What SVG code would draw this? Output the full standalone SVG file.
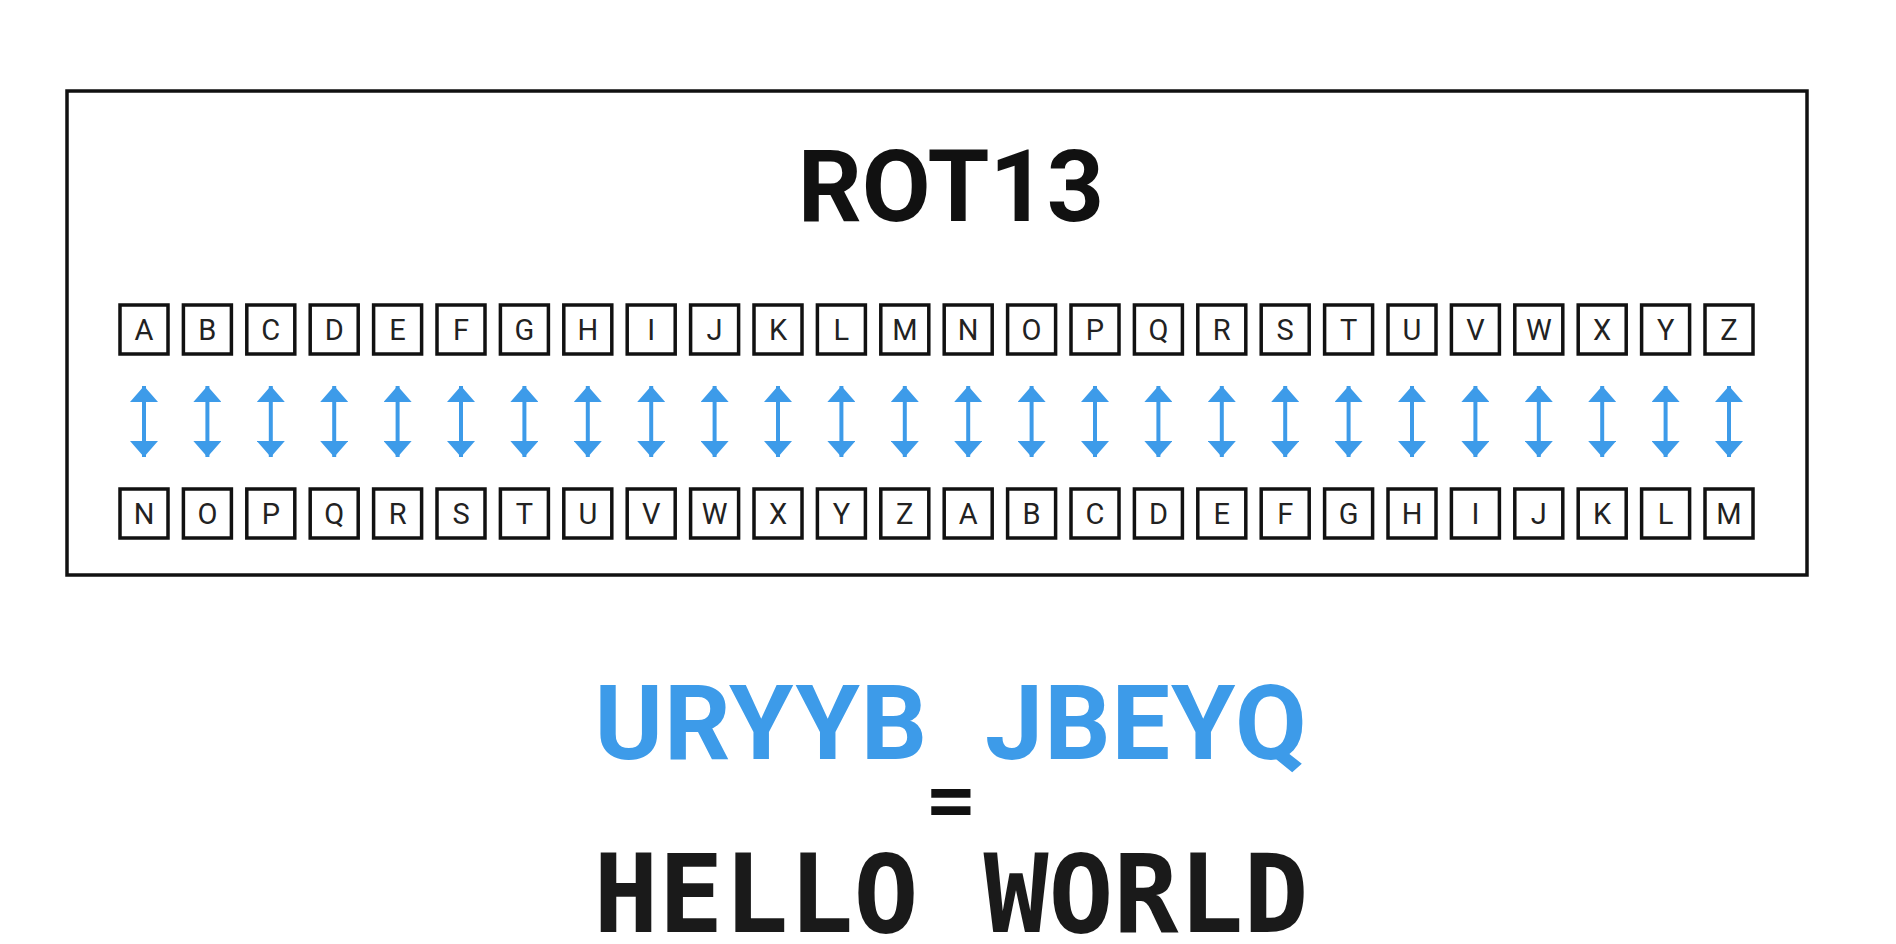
<svg xmlns="http://www.w3.org/2000/svg" width="1896" height="944" viewBox="0 0 1896 944">
<style>
.b{fill:#fff;stroke:#111;stroke-width:3.5}
.l{font-family:Roboto,"Liberation Sans",sans-serif;font-size:29px;fill:#222;text-anchor:middle}
.a{stroke:#3d9be9;stroke-width:4;marker-start:url(#h);marker-end:url(#h)}
.m{font-family:"DejaVu Sans Mono","Liberation Mono",monospace;font-weight:bold;text-anchor:middle}
</style>
<defs><marker id="h" viewBox="0 0 10 10" refX="10" refY="5" markerWidth="4" markerHeight="7" preserveAspectRatio="none" markerUnits="strokeWidth" orient="auto-start-reverse"><path d="M0,0L10,5L0,10z" fill="#3d9be9"/></marker></defs>
<rect width="1896" height="944" fill="#fff"/>
<rect x="67" y="91" width="1740" height="484" fill="none" stroke="#111" stroke-width="3.5"/>
<text x="951" y="221" font-family="Roboto,'Liberation Sans',sans-serif" font-weight="bold" font-size="100" text-anchor="middle" fill="#111">ROT13</text>
<g id="top">
<g id="tA"><rect class="b" x="120" y="305" width="48" height="49"/><text class="l" x="144" y="340">A</text></g>
<g id="tB"><rect class="b" x="183.4" y="305" width="48" height="49"/><text class="l" x="207.4" y="340">B</text></g>
<g id="tC"><rect class="b" x="246.8" y="305" width="48" height="49"/><text class="l" x="270.8" y="340">C</text></g>
<g id="tD"><rect class="b" x="310.2" y="305" width="48" height="49"/><text class="l" x="334.2" y="340">D</text></g>
<g id="tE"><rect class="b" x="373.6" y="305" width="48" height="49"/><text class="l" x="397.6" y="340">E</text></g>
<g id="tF"><rect class="b" x="437" y="305" width="48" height="49"/><text class="l" x="461" y="340">F</text></g>
<g id="tG"><rect class="b" x="500.4" y="305" width="48" height="49"/><text class="l" x="524.4" y="340">G</text></g>
<g id="tH"><rect class="b" x="563.8" y="305" width="48" height="49"/><text class="l" x="587.8" y="340">H</text></g>
<g id="tI"><rect class="b" x="627.2" y="305" width="48" height="49"/><text class="l" x="651.2" y="340">I</text></g>
<g id="tJ"><rect class="b" x="690.6" y="305" width="48" height="49"/><text class="l" x="714.6" y="340">J</text></g>
<g id="tK"><rect class="b" x="754" y="305" width="48" height="49"/><text class="l" x="778" y="340">K</text></g>
<g id="tL"><rect class="b" x="817.4" y="305" width="48" height="49"/><text class="l" x="841.4" y="340">L</text></g>
<g id="tM"><rect class="b" x="880.8" y="305" width="48" height="49"/><text class="l" x="904.8" y="340">M</text></g>
<g id="tN"><rect class="b" x="944.2" y="305" width="48" height="49"/><text class="l" x="968.2" y="340">N</text></g>
<g id="tO"><rect class="b" x="1007.6" y="305" width="48" height="49"/><text class="l" x="1031.6" y="340">O</text></g>
<g id="tP"><rect class="b" x="1071" y="305" width="48" height="49"/><text class="l" x="1095" y="340">P</text></g>
<g id="tQ"><rect class="b" x="1134.4" y="305" width="48" height="49"/><text class="l" x="1158.4" y="340">Q</text></g>
<g id="tR"><rect class="b" x="1197.8" y="305" width="48" height="49"/><text class="l" x="1221.8" y="340">R</text></g>
<g id="tS"><rect class="b" x="1261.2" y="305" width="48" height="49"/><text class="l" x="1285.2" y="340">S</text></g>
<g id="tT"><rect class="b" x="1324.6" y="305" width="48" height="49"/><text class="l" x="1348.6" y="340">T</text></g>
<g id="tU"><rect class="b" x="1388" y="305" width="48" height="49"/><text class="l" x="1412" y="340">U</text></g>
<g id="tV"><rect class="b" x="1451.4" y="305" width="48" height="49"/><text class="l" x="1475.4" y="340">V</text></g>
<g id="tW"><rect class="b" x="1514.8" y="305" width="48" height="49"/><text class="l" x="1538.8" y="340">W</text></g>
<g id="tX"><rect class="b" x="1578.2" y="305" width="48" height="49"/><text class="l" x="1602.2" y="340">X</text></g>
<g id="tY"><rect class="b" x="1641.6" y="305" width="48" height="49"/><text class="l" x="1665.6" y="340">Y</text></g>
<g id="tZ"><rect class="b" x="1705" y="305" width="48" height="49"/><text class="l" x="1729" y="340">Z</text></g>
</g>
<g id="bottom">
<g id="bN"><rect class="b" x="120" y="489" width="48" height="49"/><text class="l" x="144" y="524">N</text></g>
<g id="bO"><rect class="b" x="183.4" y="489" width="48" height="49"/><text class="l" x="207.4" y="524">O</text></g>
<g id="bP"><rect class="b" x="246.8" y="489" width="48" height="49"/><text class="l" x="270.8" y="524">P</text></g>
<g id="bQ"><rect class="b" x="310.2" y="489" width="48" height="49"/><text class="l" x="334.2" y="524">Q</text></g>
<g id="bR"><rect class="b" x="373.6" y="489" width="48" height="49"/><text class="l" x="397.6" y="524">R</text></g>
<g id="bS"><rect class="b" x="437" y="489" width="48" height="49"/><text class="l" x="461" y="524">S</text></g>
<g id="bT"><rect class="b" x="500.4" y="489" width="48" height="49"/><text class="l" x="524.4" y="524">T</text></g>
<g id="bU"><rect class="b" x="563.8" y="489" width="48" height="49"/><text class="l" x="587.8" y="524">U</text></g>
<g id="bV"><rect class="b" x="627.2" y="489" width="48" height="49"/><text class="l" x="651.2" y="524">V</text></g>
<g id="bW"><rect class="b" x="690.6" y="489" width="48" height="49"/><text class="l" x="714.6" y="524">W</text></g>
<g id="bX"><rect class="b" x="754" y="489" width="48" height="49"/><text class="l" x="778" y="524">X</text></g>
<g id="bY"><rect class="b" x="817.4" y="489" width="48" height="49"/><text class="l" x="841.4" y="524">Y</text></g>
<g id="bZ"><rect class="b" x="880.8" y="489" width="48" height="49"/><text class="l" x="904.8" y="524">Z</text></g>
<g id="bA"><rect class="b" x="944.2" y="489" width="48" height="49"/><text class="l" x="968.2" y="524">A</text></g>
<g id="bB"><rect class="b" x="1007.6" y="489" width="48" height="49"/><text class="l" x="1031.6" y="524">B</text></g>
<g id="bC"><rect class="b" x="1071" y="489" width="48" height="49"/><text class="l" x="1095" y="524">C</text></g>
<g id="bD"><rect class="b" x="1134.4" y="489" width="48" height="49"/><text class="l" x="1158.4" y="524">D</text></g>
<g id="bE"><rect class="b" x="1197.8" y="489" width="48" height="49"/><text class="l" x="1221.8" y="524">E</text></g>
<g id="bF"><rect class="b" x="1261.2" y="489" width="48" height="49"/><text class="l" x="1285.2" y="524">F</text></g>
<g id="bG"><rect class="b" x="1324.6" y="489" width="48" height="49"/><text class="l" x="1348.6" y="524">G</text></g>
<g id="bH"><rect class="b" x="1388" y="489" width="48" height="49"/><text class="l" x="1412" y="524">H</text></g>
<g id="bI"><rect class="b" x="1451.4" y="489" width="48" height="49"/><text class="l" x="1475.4" y="524">I</text></g>
<g id="bJ"><rect class="b" x="1514.8" y="489" width="48" height="49"/><text class="l" x="1538.8" y="524">J</text></g>
<g id="bK"><rect class="b" x="1578.2" y="489" width="48" height="49"/><text class="l" x="1602.2" y="524">K</text></g>
<g id="bL"><rect class="b" x="1641.6" y="489" width="48" height="49"/><text class="l" x="1665.6" y="524">L</text></g>
<g id="bM"><rect class="b" x="1705" y="489" width="48" height="49"/><text class="l" x="1729" y="524">M</text></g>
</g>
<g id="connectors">
<line class="a" x1="144" y1="386" x2="144" y2="457"/>
<line class="a" x1="207.4" y1="386" x2="207.4" y2="457"/>
<line class="a" x1="270.8" y1="386" x2="270.8" y2="457"/>
<line class="a" x1="334.2" y1="386" x2="334.2" y2="457"/>
<line class="a" x1="397.6" y1="386" x2="397.6" y2="457"/>
<line class="a" x1="461" y1="386" x2="461" y2="457"/>
<line class="a" x1="524.4" y1="386" x2="524.4" y2="457"/>
<line class="a" x1="587.8" y1="386" x2="587.8" y2="457"/>
<line class="a" x1="651.2" y1="386" x2="651.2" y2="457"/>
<line class="a" x1="714.6" y1="386" x2="714.6" y2="457"/>
<line class="a" x1="778" y1="386" x2="778" y2="457"/>
<line class="a" x1="841.4" y1="386" x2="841.4" y2="457"/>
<line class="a" x1="904.8" y1="386" x2="904.8" y2="457"/>
<line class="a" x1="968.2" y1="386" x2="968.2" y2="457"/>
<line class="a" x1="1031.6" y1="386" x2="1031.6" y2="457"/>
<line class="a" x1="1095" y1="386" x2="1095" y2="457"/>
<line class="a" x1="1158.4" y1="386" x2="1158.4" y2="457"/>
<line class="a" x1="1221.8" y1="386" x2="1221.8" y2="457"/>
<line class="a" x1="1285.2" y1="386" x2="1285.2" y2="457"/>
<line class="a" x1="1348.6" y1="386" x2="1348.6" y2="457"/>
<line class="a" x1="1412" y1="386" x2="1412" y2="457"/>
<line class="a" x1="1475.4" y1="386" x2="1475.4" y2="457"/>
<line class="a" x1="1538.8" y1="386" x2="1538.8" y2="457"/>
<line class="a" x1="1602.2" y1="386" x2="1602.2" y2="457"/>
<line class="a" x1="1665.6" y1="386" x2="1665.6" y2="457"/>
<line class="a" x1="1729" y1="386" x2="1729" y2="457"/>
</g>
<text x="951" y="759" font-size="104" fill="#3d9be9" font-weight="bold" text-anchor="middle" font-family="Roboto,'Liberation Sans',sans-serif" letter-spacing="1" word-spacing="30">URYYB JBEYQ</text>
<text class="m" x="951" y="826" font-size="76" fill="#111">=</text>
<text class="m" x="951" y="932" font-size="108" fill="#1a1a1a">HELLO WORLD</text>
</svg>
